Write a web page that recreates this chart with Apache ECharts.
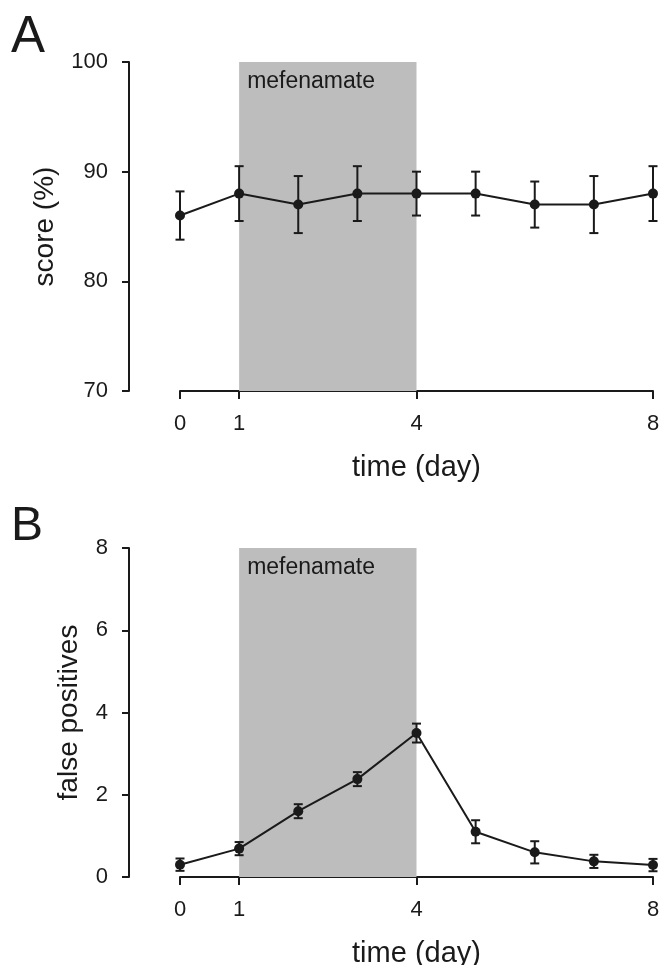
<!DOCTYPE html>
<html lang="en">
<head>
  <meta charset="UTF-8" />
  <title>mefenamate: score and false positives</title>
  <script src="https://cdn.jsdelivr.net/npm/echarts@6/dist/echarts.min.js"></script>
  <style>
    html, body { margin: 0; padding: 0; background: #fff; }
    #chart { width: 659px; height: 965px; }
  </style>
</head>
<body>
  <div id="chart"></div>
<script type="text/javascript">
  // data
  var days = [0, 1, 2, 3, 4, 5, 6, 7, 8];
  var dayTicks = [0, 1, 4, 8];
  var scoreMean = [86, 88, 87, 88, 88, 88, 87, 87, 88];
  var scoreErr = [2.2, 2.5, 2.6, 2.5, 2.0, 2.0, 2.1, 2.6, 2.5];
  var fpMean = [0.3, 0.69, 1.6, 2.38, 3.5, 1.1, 0.6, 0.38, 0.29];
  var fpErr = [0.15, 0.16, 0.17, 0.17, 0.23, 0.28, 0.27, 0.16, 0.15];
  var drugPeriod = [1, 4];
  var drugName = 'mefenamate';

  var FONT = 'Liberation Sans, Arial, sans-serif';
  var INK = '#1a1a1a';

  function points(means) {
    return days.map(function (d, i) { return [d, means[i]]; });
  }
  function bars(means, errs) {
    return days.map(function (d, i) { return [d, means[i] - errs[i], means[i] + errs[i]]; });
  }

  // error bar with caps
  function renderErr(params, api) {
    var lo = api.coord([api.value(0), api.value(1)]);
    var hi = api.coord([api.value(0), api.value(2)]);
    var w = 4.5;
    var st = { stroke: INK, lineWidth: 2 };
    return {
      type: 'group',
      children: [
        { type: 'line', shape: { x1: lo[0], y1: lo[1], x2: hi[0], y2: hi[1] }, style: st },
        { type: 'line', shape: { x1: lo[0] - w, y1: lo[1], x2: lo[0] + w, y2: lo[1] }, style: st },
        { type: 'line', shape: { x1: hi[0] - w, y1: hi[1], x2: hi[0] + w, y2: hi[1] }, style: st }
      ]
    };
  }

  function xAxisFor(idx) {
    return {
      type: 'value', gridIndex: idx, min: 0, max: 8,
      name: 'time (day)', nameLocation: 'middle', nameGap: 62,
      nameTextStyle: { fontFamily: FONT, fontSize: 29, color: INK },
      axisLine: { show: true, onZero: false, lineStyle: { color: INK, width: 2 } },
      axisTick: { show: true, length: 8, lineStyle: { color: INK, width: 2 }, customValues: dayTicks },
      axisLabel: { fontFamily: FONT, fontSize: 22, color: INK, margin: 22, customValues: dayTicks },
      splitLine: { show: false }
    };
  }

  function yAxisFor(idx, min, max, interval, name, gap) {
    return {
      type: 'value', gridIndex: idx, min: min, max: max, interval: interval,
      offset: 51,
      name: name, nameLocation: 'middle', nameGap: gap,
      nameTextStyle: { fontFamily: FONT, fontSize: 28, color: INK },
      axisLine: { show: true, onZero: false, lineStyle: { color: INK, width: 2 } },
      axisTick: { show: true, length: 7, lineStyle: { color: INK, width: 2 } },
      axisLabel: { fontFamily: FONT, fontSize: 22, color: INK, margin: 21 },
      splitLine: { show: false }
    };
  }

  function lineSeries(idx, means) {
    return {
      type: 'line', xAxisIndex: idx, yAxisIndex: idx,
      data: points(means),
      symbol: 'circle', symbolSize: 10,
      itemStyle: { color: INK },
      lineStyle: { color: INK, width: 2 },
      z: 5,
      markArea: {
        silent: true,
        itemStyle: { color: '#bdbdbd' },
        label: {
          show: true, position: 'insideTopLeft', distance: 8,
          fontFamily: FONT, fontSize: 23, color: INK
        },
        data: [[{ xAxis: drugPeriod[0], name: drugName }, { xAxis: drugPeriod[1] }]]
      }
    };
  }

  var myChart = echarts.init(document.getElementById('chart'));

  myChart.setOption({
    animation: false,
    backgroundColor: '#fff',
    grid: [
      { left: 180, right: 6, top: 62, height: 329, outerBoundsMode: 'none' },
      { left: 180, right: 6, top: 548, height: 329, outerBoundsMode: 'none' }
    ],
    xAxis: [xAxisFor(0), xAxisFor(1)],
    yAxis: [
      yAxisFor(0, 70, 100, 10, 'score (%)', 70),
      yAxisFor(1, 0, 8, 2, 'false positives', 46)
    ],
    graphic: [
      { type: 'text', left: 11, top: 12, style: { text: 'A', fontFamily: FONT, fontSize: 51, fill: INK } },
      { type: 'text', left: 11, top: 503, style: { text: 'B', fontFamily: FONT, fontSize: 48, fill: INK } }
    ],
    series: [
      lineSeries(0, scoreMean),
      { type: 'custom', xAxisIndex: 0, yAxisIndex: 0, renderItem: renderErr, data: bars(scoreMean, scoreErr), z: 4 },
      lineSeries(1, fpMean),
      { type: 'custom', xAxisIndex: 1, yAxisIndex: 1, renderItem: renderErr, data: bars(fpMean, fpErr), z: 4 }
    ]
  });
</script>
</body>
</html>
